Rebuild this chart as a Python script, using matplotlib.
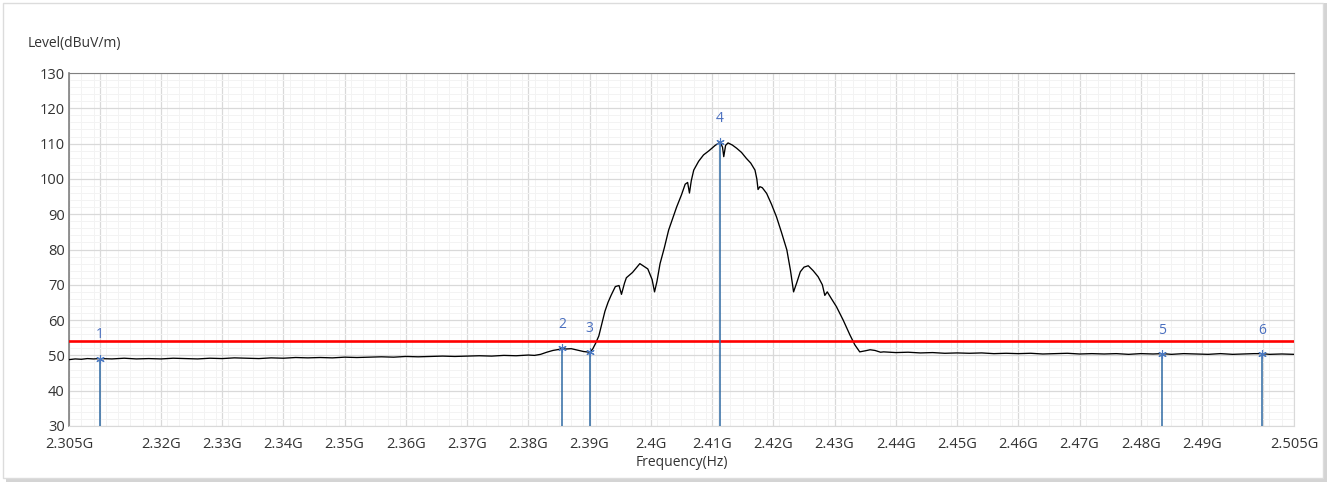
import matplotlib
matplotlib.use("Agg")
import matplotlib.pyplot as plt
from matplotlib.patches import Rectangle

plt.rcParams['font.family'] = ['Open Sans', 'DejaVu Sans']

# spectrum trace (GHz, dBuV/m)
trace_freq = [
    2.3050, 2.3060, 2.3070, 2.3080, 2.3090, 2.3100, 2.3120, 2.3140, 2.3160, 2.3180,
    2.3200, 2.3220, 2.3240, 2.3260, 2.3280, 2.3300, 2.3320, 2.3340, 2.3360, 2.3380,
    2.3400, 2.3420, 2.3440, 2.3460, 2.3480, 2.3500, 2.3520, 2.3540, 2.3560, 2.3580,
    2.3600, 2.3620, 2.3640, 2.3660, 2.3680, 2.3700, 2.3720, 2.3740, 2.3760, 2.3780,
    2.3800, 2.3810, 2.3820, 2.3830, 2.3840, 2.3850, 2.3855, 2.3860, 2.3870, 2.3880,
    2.3890, 2.3900, 2.3905, 2.3910, 2.3915, 2.3920, 2.3925, 2.3930, 2.3935, 2.3942,
    2.3948, 2.3952, 2.3957, 2.3960, 2.3970, 2.3982, 2.3995, 2.4002, 2.4006, 2.4010,
    2.4015, 2.4022, 2.4029, 2.4036, 2.4042, 2.4050, 2.4056, 2.4060, 2.4063, 2.4066,
    2.4070, 2.4078, 2.4086, 2.4095, 2.4105, 2.4113, 2.4117, 2.4119, 2.4122, 2.4126,
    2.4133, 2.4140, 2.4148, 2.4156, 2.4163, 2.4170, 2.4173, 2.4175, 2.4178, 2.4182,
    2.4189, 2.4197, 2.4205, 2.4213, 2.4222, 2.4228, 2.4233, 2.4238, 2.4244, 2.4250,
    2.4257, 2.4265, 2.4273, 2.4280, 2.4284, 2.4288, 2.4295, 2.4303, 2.4314, 2.4325,
    2.4333, 2.4341, 2.4350, 2.4358, 2.4366, 2.4375, 2.4380, 2.4400, 2.4420, 2.4440,
    2.4460, 2.4480, 2.4500, 2.4520, 2.4540, 2.4560, 2.4580, 2.4600, 2.4620, 2.4640,
    2.4660, 2.4680, 2.4700, 2.4720, 2.4740, 2.4760, 2.4780, 2.4800, 2.4820, 2.4835,
    2.4850, 2.4870, 2.4890, 2.4910, 2.4930, 2.4950, 2.4970, 2.4985, 2.4998, 2.5010,
    2.5030, 2.5050,
]
trace_level = [
    48.8, 49.0, 48.9, 49.1, 49.0, 49.1, 49.0, 49.2, 49.0, 49.1,
    49.0, 49.2, 49.1, 49.0, 49.2, 49.1, 49.3, 49.2, 49.1, 49.3,
    49.2, 49.4, 49.3, 49.4, 49.3, 49.5, 49.4, 49.5, 49.6, 49.5,
    49.7, 49.6, 49.7, 49.8, 49.7, 49.8, 49.9, 49.8, 50.0, 49.9,
    50.1, 50.0, 50.3, 50.9, 51.4, 51.7, 52.0, 51.8, 51.9, 51.5,
    51.1, 50.9, 51.8, 53.5, 55.5, 59.0, 62.5, 65.0, 67.0, 69.5,
    69.8, 67.3, 70.5, 72.0, 73.5, 76.0, 74.5, 71.5, 68.0, 71.0,
    76.0, 80.5, 85.5, 89.0, 92.0, 95.5, 98.5, 99.0, 96.0, 99.5,
    102.5, 105.0, 106.8, 108.0, 109.5, 110.4, 109.0, 106.3, 109.5, 110.2,
    109.6, 108.7, 107.5, 105.8, 104.5, 102.5, 100.0, 97.0, 97.8, 97.5,
    95.9, 92.8, 89.3, 85.0, 79.9, 74.0, 68.0, 70.5, 73.7, 75.0,
    75.4, 74.0, 72.3, 70.0, 67.0, 68.0, 66.0, 63.8, 60.0, 55.8,
    53.0, 51.0, 51.3, 51.6, 51.4, 50.9, 51.0, 50.8, 50.9, 50.7,
    50.8, 50.6, 50.7, 50.6, 50.7, 50.5, 50.6, 50.5, 50.6, 50.4,
    50.5, 50.6, 50.4, 50.5, 50.4, 50.5, 50.3, 50.5, 50.4, 50.5,
    50.3, 50.5, 50.4, 50.3, 50.5, 50.3, 50.4, 50.5, 50.5, 50.3,
    50.4, 50.3,
]

limit_level = 54

marker_labels = ["1", "2", "3", "4", "5", "6"]
marker_freq = [2.3100, 2.3855, 2.3900, 2.4113, 2.4835, 2.4998]
marker_level = [49.1, 52.0, 50.9, 110.4, 50.5, 50.5]

xtick_vals = [2.305, 2.31, 2.32, 2.33, 2.34, 2.35, 2.36, 2.37, 2.38, 2.39, 2.40,
              2.41, 2.42, 2.43, 2.44, 2.45, 2.46, 2.47, 2.48, 2.49, 2.50, 2.505]
xtick_text = ["2.305G", "", "2.32G", "2.33G", "2.34G", "2.35G", "2.36G", "2.37G",
              "2.38G", "2.39G", "2.4G", "2.41G", "2.42G", "2.43G", "2.44G", "2.45G",
              "2.46G", "2.47G", "2.48G", "2.49G", "", "2.505G"]
ytick_vals = list(range(30, 131, 10))

fig = plt.figure(figsize=(13.3, 4.82), dpi=100)
fig.patch.set_facecolor("white")
# panel frame with a soft shadow
fig.patches.append(Rectangle((0.0045, 0.0), 0.9935, 0.994, transform=fig.transFigure,
                             facecolor="#d4d4d4", edgecolor="none", zorder=-3))
fig.patches.append(Rectangle((0.0025, 0.008), 0.9925, 0.986, transform=fig.transFigure,
                             facecolor="white", edgecolor="#dcdcdc", lw=1, zorder=-2))

ax = fig.add_axes([0.0519, 0.1162, 0.9210, 0.7323])
ax.set_facecolor("white")

ax.plot(trace_freq, trace_level, color="black", lw=0.95, zorder=3)
ax.axhline(limit_level, color="#ff0000", lw=1.9, zorder=4)

for lab, f, lv in zip(marker_labels, marker_freq, marker_level):
    ax.plot([f, f], [30, lv], color="#2f6aa3", lw=1.1, zorder=5)
    ax.plot(f, lv, marker=(6, 2, 0), ms=6, mew=0.8, color="#4a78c0", zorder=6)
    ax.annotate(lab, (f, lv), xytext=(0, 17), textcoords="offset points",
                ha="center", va="center", fontsize=10, color="#4a6fbf")

ax.set_xlim(2.305, 2.505)
ax.set_ylim(30, 130)
ax.set_xticks(xtick_vals)
ax.set_xticklabels(xtick_text)
ax.set_xticks([2.305 + 0.002 * i for i in range(101)], minor=True)
ax.set_yticks(ytick_vals)
ax.set_yticks(list(range(30, 131, 2)), minor=True)
ax.grid(which="major", color="#d9d9d9", lw=0.9)
ax.grid(which="minor", color="#f3f3f3", lw=0.7)
ax.set_axisbelow(True)
ax.tick_params(which="both", length=0, labelsize=10.5, colors="#333333")
ax.tick_params(axis="x", pad=8)
ax.tick_params(axis="y", pad=3)

ax.spines["left"].set_color("#808080")
ax.spines["top"].set_color("#808080")
ax.spines["right"].set_color("#d9d9d9")
ax.spines["bottom"].set_color("#d9d9d9")
ax.spines["left"].set_linewidth(1.2)

fig.text(0.021, 0.91, "Level(dBuV/m)", fontsize=10, color="#333333", va="center")
ax.set_xlabel("Frequency(Hz)", fontsize=10, color="#333333", labelpad=2)

fig.savefig("out.png", dpi=100)
